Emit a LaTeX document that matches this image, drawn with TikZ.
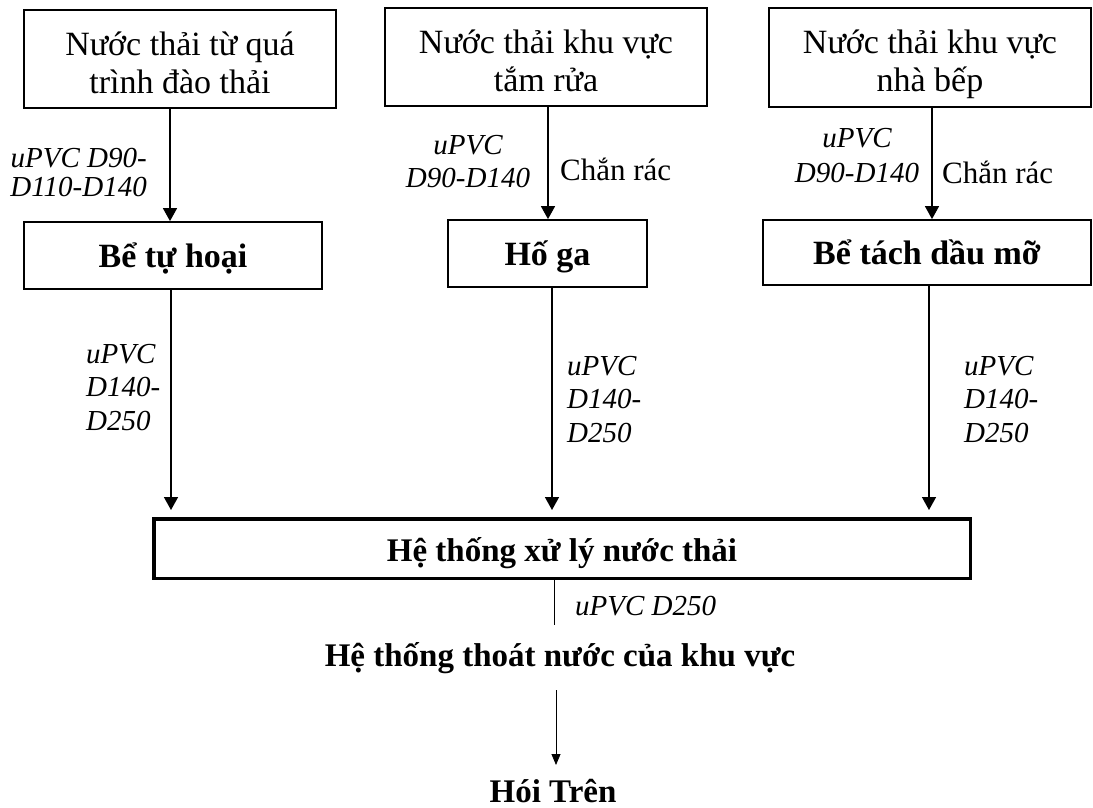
\documentclass[tikz,border=0pt]{standalone}
\usepackage{fontspec}
\setmainfont{Liberation Serif}
\usetikzlibrary{arrows.meta}
\begin{document}
\begin{tikzpicture}[x=1pt,y=-1pt,
  srcbox/.style={draw, line width=1.8pt, inner sep=0pt, align=center,
    text height=70pt, text depth=2pt,
    font=\fontsize{34}{38}\selectfont},
  tankbox/.style={draw, line width=1.8pt, inner sep=0pt, align=center,
    text height=25pt, text depth=2pt,
    font=\fontsize{34}{38}\selectfont\bfseries},
  mainbox/.style={draw, line width=3.5pt, inner sep=0pt, align=center,
    text height=27pt, text depth=2pt,
    font=\fontsize{33}{38}\selectfont\bfseries},
  pipelbl/.style={inner sep=0pt, font=\fontsize{29}{33.5}\selectfont\itshape},
  notelbl/.style={inner sep=0pt, font=\fontsize{31}{34}\selectfont},
  bigtxt/.style={inner sep=0pt, font=\fontsize{33}{38}\selectfont\bfseries},
  arr/.style={line width=1.5pt, -{Triangle[length=13pt,width=14pt]}},
  thinarr/.style={line width=0.8pt, -{Triangle[length=11pt,width=9pt]}},
  thinline/.style={line width=0.8pt}
]
\path[use as bounding box] (0,0) rectangle (1093,807);

% source boxes
\node[srcbox, minimum width=312pt, minimum height=98pt] (b1) at (180,59) {Nước thải từ quá\\trình đào thải};
\node[srcbox, minimum width=322pt, minimum height=98pt] (b2) at (546,57) {Nước thải khu vực\\tắm rửa};
\node[srcbox, minimum width=322pt, minimum height=99pt] (b3) at (930,57.5) {Nước thải khu vực\\nhà bếp};

% tanks
\node[tankbox, minimum width=298pt, minimum height=67pt] (b4) at (173,255.5) {Bể tự hoại};
\node[tankbox, minimum width=199pt, minimum height=67pt] (b5) at (547.5,253.5) {Hố ga};
\node[tankbox, minimum width=328pt, minimum height=65pt] (b6) at (927,252.5) {Bể tách dầu mỡ};

% main box
\node[mainbox, minimum width=816.5pt, minimum height=59.5pt] (m) at (562,548.5) {Hệ thống xử lý nước thải};

% columns
\coordinate (x1u) at (170,0);
\coordinate (x2u) at (548,0);
\coordinate (x3u) at (932,0);
\coordinate (x1l) at (171,0);
\coordinate (x2l) at (552,0);
\coordinate (x3l) at (929,0);

\draw[arr] (x1u |- b1.south) -- (x1u |- b4.north);
\draw[arr] (x2u |- b2.south) -- (x2u |- b5.north);
\draw[arr] (x3u |- b3.south) -- (x3u |- b6.north);

\draw[arr] (x1l |- b4.south) -- ([yshift=7pt]x1l |- m.north);
\draw[arr] (x2l |- b5.south) -- ([yshift=7pt]x2l |- m.north);
\draw[arr] (x3l |- b6.south) -- ([yshift=7pt]x3l |- m.north);

% upper labels
\node[pipelbl, font=\fontsize{29}{29}\selectfont\itshape, align=right, anchor=north east] (l1) at (147,148.5) {uPVC D90-\\D110-D140};
\node[pipelbl, font=\fontsize{29}{33}\selectfont\itshape, align=center, anchor=north] (l2) at (468,135.5) {uPVC\\D90-D140};
\node[pipelbl, font=\fontsize{29}{35}\selectfont\itshape, align=center, anchor=north] (l3) at (857,128.5) {uPVC\\D90-D140};
\node[notelbl, anchor=base west] (c2) at (560,180) {Chắn rác};
\node[notelbl, anchor=base west] (c3) at (942,183) {Chắn rác};

% lower labels
\node[pipelbl, align=left, anchor=north west] (ll1) at (86,343.8) {uPVC\\D140-\\D250};
\node[pipelbl, align=left, anchor=north west] (ll2) at (567,355.8) {uPVC\\D140-\\D250};
\node[pipelbl, align=left, anchor=north west] (ll3) at (964,355.8) {uPVC\\D140-\\D250};

% outlet
\coordinate (o1) at (554,625);
\draw[thinline] (o1 |- m.south) -- (o1);
\node[pipelbl, anchor=base west] (ld) at (575,615) {uPVC D250};

\node[bigtxt, anchor=base] (t) at (560,666) {Hệ thống thoát nước của khu vực};
\node[bigtxt, anchor=base] (h) at (553,802) {Hói Trên};
\coordinate (s1) at (556,690);
\coordinate (s2) at (556,765);
\draw[thinarr] (s1) -- (s2);
\end{tikzpicture}
\end{document}
